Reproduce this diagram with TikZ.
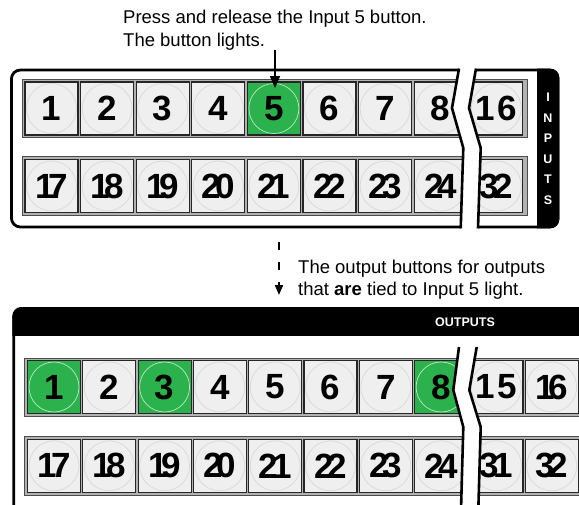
\documentclass[tikz,border=0pt]{standalone}
\usepackage{fontspec}
\setmainfont{Liberation Sans}
\usetikzlibrary{arrows.meta}
\definecolor{btngreen}{RGB}{43,178,76}
\definecolor{btnface}{RGB}{239,239,239}
\definecolor{ringgray}{RGB}{216,216,216}
\definecolor{ringon}{RGB}{190,230,200}
\newcommand\tight[1]{\expandafter\tightaux#1\relax}
\def\tightaux#1#2\relax{#1\kern-6pt#2}
\newcommand\wide[1]{\expandafter\wideaux#1\relax}
\def\wideaux#1#2\relax{#1\kern3pt#2}
\begin{document}
\begin{tikzpicture}[x=1pt,y=-1pt,
  panel/.style={draw=black, line width=2.8pt, fill=white},
  rowframe/.style={draw=black!70, fill=black!30, line width=1pt},
  btn/.style={rectangle, draw=black!85, fill=btnface, line width=1.2pt,
    minimum size=53pt, inner sep=0pt,
    font=\fontsize{35pt}{35pt}\selectfont\bfseries,
    path picture={\draw[draw=ringgray, line width=0.7pt]
      (path picture bounding box.center) circle (25pt);}},
  btnon/.style={btn, fill=btngreen,
    path picture={\draw[draw=ringon, line width=0.7pt]
      (path picture bounding box.center) circle (25pt);}},
  brkfill/.style={fill=white},
  brkline/.style={draw=black, line width=2.6pt},
  caption/.style={font=\fontsize{18.5pt}{22pt}\selectfont, inner sep=0pt, anchor=base west},
  stripletter/.style={text=white, font=\fontsize{12.5pt}{12.5pt}\selectfont\bfseries, inner sep=0pt},
  arr/.style={line width=1.6pt, -{Triangle[length=12pt,width=10pt]}},
  dasharr/.style={line width=2pt, dash pattern=on 8pt off 12pt, -{Triangle[length=10pt,width=8pt]}}
]
\useasboundingbox (0,0) rectangle (579,504);

% ---------------- top panel (inputs) ----------------
\draw[panel, rounded corners=9pt] (11.4,70) rectangle (558,227);
\begin{scope}
  \clip (537,0) rectangle (600,300);
  \fill[black, rounded corners=9pt] (520,68.6) rectangle (559.4,228.4);
\end{scope}
\draw[rowframe] (22,79) rectangle (527,137.5);
\draw[rowframe] (22,156.5) rectangle (527,215.5);
\foreach \n/\s [count=\c from 0] in {1/btn,2/btn,3/btn,4/btn,5/btnon,6/btn,7/btn,8/btn}
  \node[\s] (i\n) at ({51.5+55.6*\c},108.5) {\n};
\node[btn] (i16) at ({51.5+55.6*8},108.5) {\wide{16}};
\foreach \n [count=\c from 0] in {17,18,19,20,21,22,23,24}
  \node[btn] (i\n) at ({51.5+55.6*\c},186) {\tight{\n}};
\node[btn] (i32) at ({51.5+55.6*8},186) {\tight{32}};
% break
\fill[brkfill] (459,66) -- (452,108) -- (463.3,148) -- (460.7,231) -- (478,231) -- (480.7,148) -- (469,108) -- (476,66) -- cycle;
\draw[brkline] (459,68.6) -- (452,108) -- (463.3,148) -- (460.7,228.4);
\draw[brkline] (476,68.6) -- (469,108) -- (480.7,148) -- (478,228.4);
% INPUTS
\foreach \l/\yy [count=\c] in {I/97.5,N/118,P/138.5,U/159,T/179.5,S/200}
  \node[stripletter] (inl\c) at (548,\yy) {\l};

% ---------------- captions and arrows ----------------
\node[caption] (t1a) at (123,23.3) {Press and release the Input 5 button.};
\node[caption] (t1b) at (123,46.7) {The button lights.};
\coordinate (a1s) at (275,50);
\coordinate (a1e) at (275,88);
\draw[arr] (a1s) -- (a1e);

\coordinate (a2s) at (279,242);
\coordinate (a2e) at (279,295);
\draw[dasharr] (a2s) -- (a2e);
\node[caption] (t2a) at (298,273) {The output buttons for outputs};
\node[caption] (t2b) at (298,295.5) {that \textbf{are} tied to Input 5 light.};

% ---------------- bottom panel (outputs) ----------------
\draw[panel, rounded corners=9pt] (13.7,530) -- (13.7,308.4) -- (700,308.4);
\begin{scope}
  \clip (0,300) rectangle (600,335);
  \fill[black, rounded corners=9pt] (12.3,307) rectangle (650,400);
\end{scope}
\node[stripletter, font=\fontsize{12.5pt}{12.5pt}\selectfont\bfseries] (outl) at (465,322.5) {OUTPUTS};
\draw[rowframe] (24,358.3) rectangle (585,416);
\draw[rowframe] (24,436.7) rectangle (585,495);
\foreach \n/\s [count=\c from 0] in {1/btnon,2/btn,3/btnon,4/btn,5/btn,6/btn,7/btn,8/btnon}
  \node[\s] (o\n) at ({54+55.3*\c},387) {\n};
\node[btn] (o15) at ({54+55.3*8},387) {\wide{15}};
\node[btn] (o16) at ({54+55.3*9},387) {\tight{16}};
\foreach \n [count=\c from 0] in {17,18,19,20,21,22,23,24}
  \node[btn] (o\n) at ({54+55.3*\c},465.8) {\tight{\n}};
\node[btn] (o31) at ({54+55.3*8},465.8) {\tight{31}};
\node[btn] (o32) at ({54+55.3*9},465.8) {\tight{32}};
% break
\fill[brkfill] (459,346) -- (453.3,390) -- (463.3,427) -- (461,510) -- (478.3,510) -- (480.7,427) -- (469.3,390) -- (476.7,346) -- cycle;
\draw[brkline] (459,347) -- (453.3,390) -- (463.3,427) -- (461,510);
\draw[brkline] (476.7,347) -- (469.3,390) -- (480.7,427) -- (478.3,510);
\end{tikzpicture}
\end{document}
